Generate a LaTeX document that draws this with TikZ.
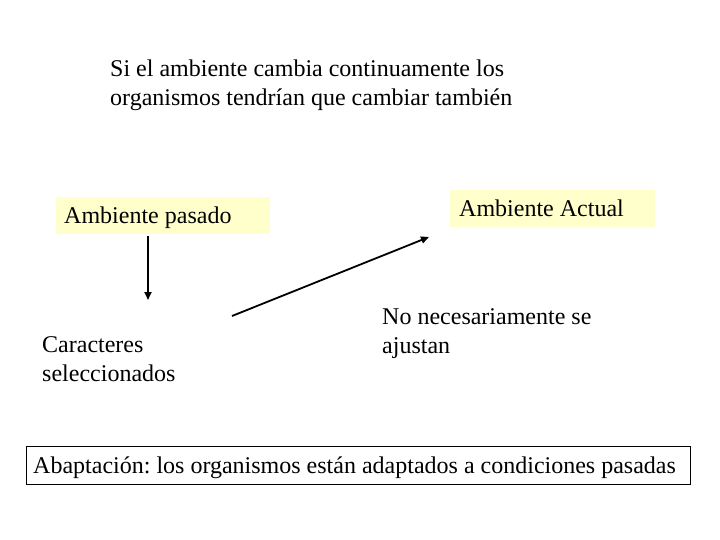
\documentclass[tikz,border=0pt]{standalone}
\usepackage{fontspec}
\setmainfont{Liberation Serif}
\usetikzlibrary{arrows.meta}
\definecolor{paleyellow}{RGB}{255,255,204}
\frenchspacing
\tikzset{
  txt/.style={font=\fontsize{24}{29}\selectfont, inner sep=0pt, align=left, anchor=base west},
  ybox/.style={fill=paleyellow, draw=none, font=\fontsize{24}{29}\selectfont, inner sep=0pt, anchor=north west},
  arr/.style={line width=1.8pt, -{Triangle[length=8pt,width=7pt]}},
}
\begin{document}
\begin{tikzpicture}[x=1pt,y=-1pt]
\useasboundingbox (0,0) rectangle (720,540);
\node[txt] (title) at (110,106) {Si el ambiente cambia continuamente los\\organismos tendrían que cambiar también};
\node[ybox, minimum width=214pt, minimum height=37pt] (past) at (56,197) {};
\node[txt] (pastt) at (64,224) {Ambiente pasado};
\node[ybox, minimum width=205pt, minimum height=37pt] (act) at (450,190) {};
\node[txt] (actt) at (459,217) {Ambiente Actual};
\node[txt] (car) at (42,381) {Caracteres\\seleccionados};
\node[txt] (no) at (382,353) {No necesariamente se\\ajustan};
\node[draw=black, line width=1pt, minimum width=664pt, minimum height=38pt, anchor=north west, inner sep=0pt] (abox) at (26,446) {};
\node[txt] (abt) at (33,473) {Abaptación: los organismos están adaptados a condiciones pasadas};
\coordinate (a1s) at (148,236);
\coordinate (a1e) at (148,300);
\coordinate (a2s) at (232,316);
\coordinate (a2e) at (429,237);
\draw[arr] (a1s) -- (a1e);
\draw[arr] (a2s) -- (a2e);
\end{tikzpicture}
\end{document}
